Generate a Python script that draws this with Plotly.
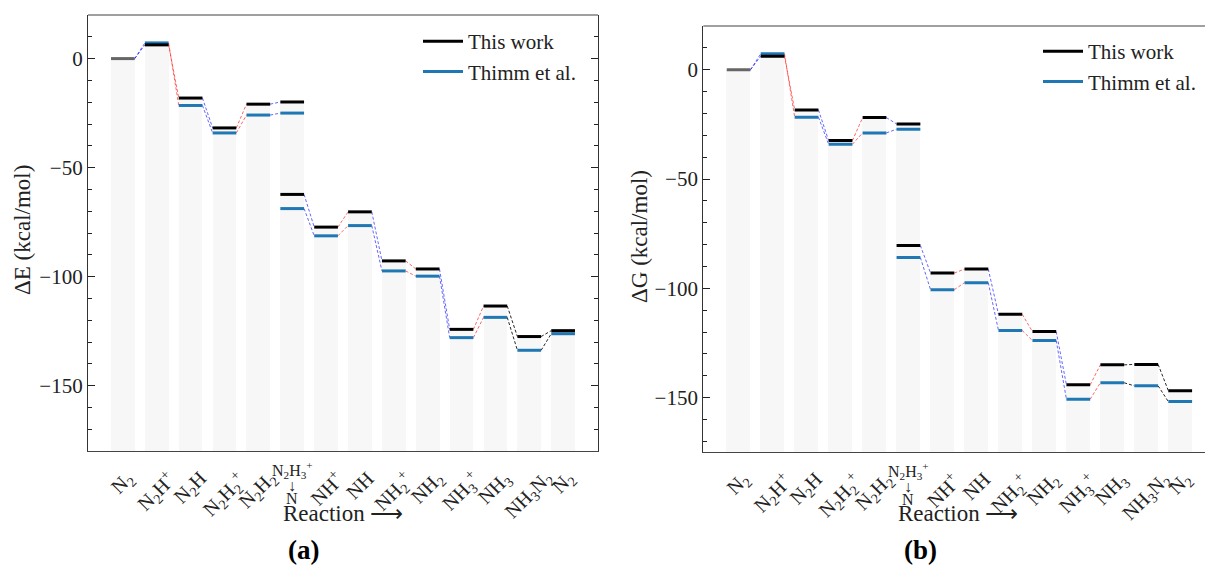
import plotly.graph_objects as go

# ---------------- data ----------------
tick_labels = ["N<sub>2</sub>", "N<sub>2</sub>H<sup>+</sup>", "N<sub>2</sub>H",
               "N<sub>2</sub>H<sub>2</sub><sup>+</sup>", "N<sub>2</sub>H<sub>2</sub>", "",
               "NH<sup>+</sup>", "NH", "NH<sub>2</sub><sup>+</sup>", "NH<sub>2</sub>",
               "NH<sub>3</sub><sup>+</sup>", "NH<sub>3</sub>", "NH<sub>3</sub>N<sub>2</sub>", "N<sub>2</sub>"]
stacked_label = ["N<sub>2</sub>H<sub>3</sub><sup>+</sup>", "↓", "N"]

# x position (category index) of each state; N2H3+ and N share column 5
state_pos = [0, 1, 2, 3, 4, 5, 5, 6, 7, 8, 9, 10, 11, 12, 13]

dE_this = [0, 6.3, -18.1, -31.8, -20.9, -19.9, -62.3, -77.3, -70.3, -92.8, -96.5, -124.2, -113.5, -127.5, -124.8]
dE_thimm = [0, 7.2, -21.5, -34.1, -25.9, -25.0, -68.8, -81.3, -76.6, -97.4, -99.8, -128.0, -118.7, -133.8, -126.2]
dG_this = [0, 6.2, -18.4, -32.4, -21.9, -24.8, -80.4, -93.0, -91.2, -111.9, -119.8, -144.1, -135.0, -134.8, -146.8]
dG_thimm = [0, 7.3, -21.7, -34.1, -28.9, -27.2, -85.9, -100.6, -97.4, -119.3, -123.9, -150.7, -143.2, -144.6, -151.8]

# type of each step between consecutive states (None = no connector)
step_type = ["H+", "e-", "H+", "e-", "H+", None, "H+", "e-", "H+", "e-", "H+", "e-", "other", "other"]

# ---------------- style ----------------
FONT = "Liberation Serif, Times New Roman, serif"
W, H = 1205, 567
HW = 0.35
step_color = {"H+": "rgba(0,0,255,0.6)", "e-": "rgba(255,0,0,0.6)", "other": "rgba(0,0,0,0.85)"}

panels = [
    dict(xa="x", ya="y", xdom=[88 / W, 598 / W], xr=[-1.03, 14.03],
         ydom=[1 - 451 / H, 1 - 15 / H], yr=[-180, 20],
         this=dE_this, thimm=dE_thimm, legend="legend", ytitle="ΔE (kcal/mol)",
         ytitle_pos=(22, 230), xtitle_x=343, cap="<b>(a)</b>", cap_x=303, mirror="ticks"),
    dict(xa="x2", ya="y2", xdom=[703.3 / W, 1.0], xr=[-1.04, 13.73],
         ydom=[1 - 452.3 / H, 1 - 26 / H], yr=[-175, 20],
         this=dG_this, thimm=dG_thimm, legend="legend2", ytitle="ΔG (kcal/mol)",
         ytitle_pos=(640, 237), xtitle_x=959, cap="<b>(b)</b>", cap_x=921, mirror=False),
]

fig = go.Figure()
annotations = []
shapes = []

for p in panels:
    xa, ya = p["xa"], p["ya"]
    this, thimm = p["this"], p["thimm"]
    ncat = len(tick_labels)
    # background columns
    tops = []
    for c in range(ncat):
        vals = [max(this[s], thimm[s]) for s in range(len(state_pos)) if state_pos[s] == c]
        tops.append(max(vals))
    base = p["yr"][0]
    fig.add_trace(go.Bar(x=list(range(ncat)), y=[t - base for t in tops], base=base, width=0.7,
                         marker=dict(color="#f7f7f7", line=dict(width=0)),
                         xaxis=xa, yaxis=ya, showlegend=False, hoverinfo="skip"))
    # connectors
    for kind, col in step_color.items():
        xs, ys = [], []
        for k, t in enumerate(step_type):
            if t != kind:
                continue
            for ser in (thimm, this):
                xs += [state_pos[k] + HW, state_pos[k + 1] - HW, None]
                ys += [ser[k], ser[k + 1], None]
        fig.add_trace(go.Scatter(x=xs, y=ys, mode="lines", line=dict(color=col, width=1, dash="3px,2px"),
                                 xaxis=xa, yaxis=ya, showlegend=False, hoverinfo="skip"))
    # levels
    for ser, col, name, rank in ((thimm, "#1f77b4", "Thimm et al.", 2), (this, "#000000", "This work", 1)):
        xs, ys = [], []
        for s in range(1, len(state_pos)):
            xs += [state_pos[s] - HW, state_pos[s] + HW, None]
            ys += [ser[s], ser[s], None]
        fig.add_trace(go.Scatter(x=xs, y=ys, mode="lines", line=dict(color=col, width=3),
                                 name=name, legendrank=rank, legend=p["legend"],
                                 xaxis=xa, yaxis=ya, hoverinfo="skip"))
    # reference level (first state)
    fig.add_trace(go.Scatter(x=[state_pos[0] - HW, state_pos[0] + HW], y=[this[0], this[0]], mode="lines",
                             line=dict(color="#666666", width=3), xaxis=xa, yaxis=ya,
                             showlegend=False, hoverinfo="skip"))

    # tick labels as rotated annotations
    for i, lab in enumerate(tick_labels):
        if not lab:
            continue
        annotations.append(dict(x=i, xref=xa, y=p["ydom"][0], yref="paper", text=lab, showarrow=False,
                                textangle=-45, xanchor="center", yanchor="top", yshift=-13,
                                font=dict(family=FONT, size=20, color="#222")))
    sx = state_pos[5]
    for j, (txt, py) in enumerate(zip(stacked_label, [470, 485, 498])):
        annotations.append(dict(x=sx, xref=xa, y=1 - py / H + (p["ydom"][0] - (1 - 451 / H)), yref="paper",
                                text=txt, showarrow=False, xanchor="center", yanchor="middle",
                                font=dict(family=FONT, size=16, color="#222")))
    # axis titles and caption
    annotations.append(dict(x=p["xtitle_x"] / W, xref="paper", y=1 - 513 / H, yref="paper",
                            text="Reaction ⟶", showarrow=False, xanchor="center", yanchor="middle",
                            font=dict(family=FONT, size=23, color="#222")))
    annotations.append(dict(x=p["ytitle_pos"][0] / W, xref="paper", y=1 - p["ytitle_pos"][1] / H, yref="paper",
                            text=p["ytitle"], showarrow=False, textangle=-90, xanchor="center", yanchor="middle",
                            font=dict(family=FONT, size=23, color="#222")))
    annotations.append(dict(x=p["cap_x"] / W, xref="paper", y=1 - 550 / H, yref="paper",
                            text=p["cap"], showarrow=False, xanchor="center", yanchor="middle",
                            font=dict(family=FONT, size=27, color="#000")))
    # top spine (gray)
    shapes.append(dict(type="line", xref="paper", yref="paper", x0=p["xdom"][0], x1=p["xdom"][1],
                       y0=p["ydom"][1], y1=p["ydom"][1], line=dict(color="#808080", width=1.6)))

axis_common = dict(showgrid=False, zeroline=False)
layout = dict(width=W, height=H, margin=dict(l=0, r=0, t=0, b=0),
              paper_bgcolor="white", plot_bgcolor="white", bargap=0,
              font=dict(family=FONT, size=20, color="#222"),
              annotations=annotations, shapes=shapes, showlegend=True)

for idx, p in enumerate(panels):
    sfx = "" if idx == 0 else "2"
    layout["xaxis" + sfx] = dict(axis_common, domain=p["xdom"], range=p["xr"], showticklabels=False, ticks="",
                                 showline=True, linecolor="#444", linewidth=1.3, anchor=p["ya"], fixedrange=True)
    layout["yaxis" + sfx] = dict(axis_common, domain=p["ydom"], range=p["yr"], anchor=p["xa"],
                                 tickvals=[-150, -100, -50, 0], ticks="inside", ticklen=7, tickwidth=1,
                                 tickcolor="#222", showline=True, linecolor="#333", linewidth=1.3,
                                 mirror=p["mirror"], tickfont=dict(family=FONT, size=21, color="#222"),
                                 minor=dict(dtick=10, ticks="inside", ticklen=3.5, tickcolor="#222"))

layout["legend"] = dict(x=418 / W, y=1 - 21 / H, xanchor="left", yanchor="top", bgcolor="rgba(0,0,0,0)",
                        font=dict(family=FONT, size=21, color="#222"), tracegroupgap=0, itemwidth=40)
layout["legend2"] = dict(x=1038 / W, y=1 - 31 / H, xanchor="left", yanchor="top", bgcolor="rgba(0,0,0,0)",
                         font=dict(family=FONT, size=21, color="#222"), tracegroupgap=0, itemwidth=40)

fig.update_layout(**layout)
fig.write_html("out.html")
